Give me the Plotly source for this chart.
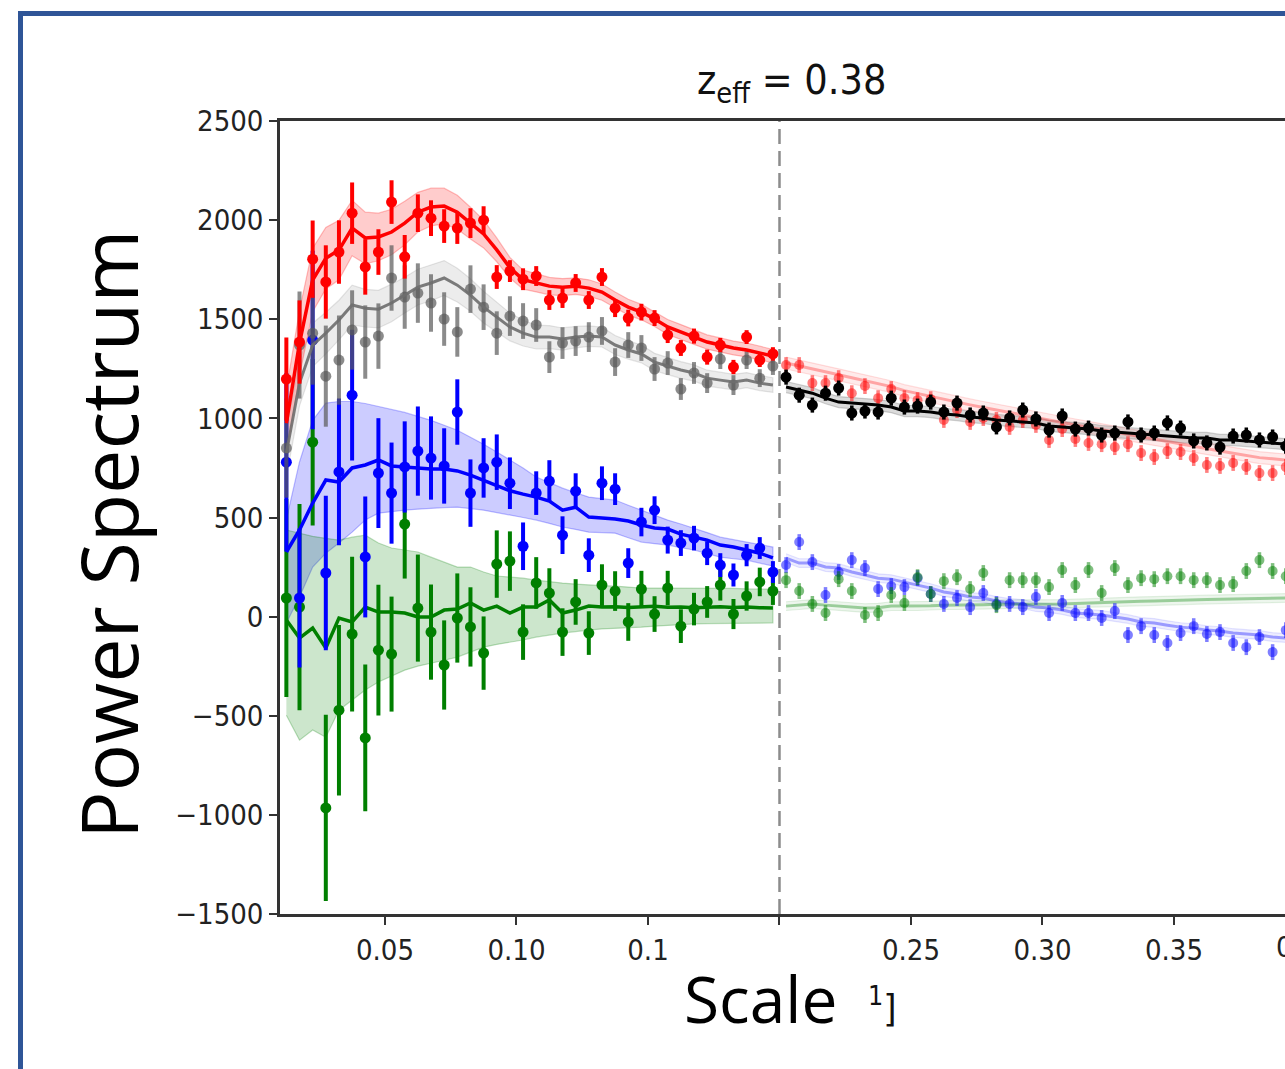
import plotly.graph_objects as go

# ---------------------------------------------------------------- data
# k-bin centres (fitted range below k = 0.2, extended range above it)
K_LEFT = [0.0125, 0.0175, 0.0225, 0.0275, 0.0325, 0.0375, 0.0425, 0.0475, 0.0525, 0.0575,
          0.0625, 0.0675, 0.0725, 0.0775, 0.0825, 0.0875, 0.0925, 0.0975, 0.1025, 0.1075,
          0.1125, 0.1175, 0.1225, 0.1275, 0.1325, 0.1375, 0.1425, 0.1475, 0.1525, 0.1575,
          0.1625, 0.1675, 0.1725, 0.1775, 0.1825, 0.1875, 0.1925, 0.1975]
K_RIGHT = [0.2025, 0.2075, 0.2125, 0.2175, 0.2225, 0.2275, 0.2325, 0.2375, 0.2425, 0.2475,
           0.2525, 0.2575, 0.2625, 0.2675, 0.2725, 0.2775, 0.2825, 0.2875, 0.2925, 0.2975,
           0.3025, 0.3075, 0.3125, 0.3175, 0.3225, 0.3275, 0.3325, 0.3375, 0.3425, 0.3475,
           0.3525, 0.3575, 0.3625, 0.3675, 0.3725, 0.3775, 0.3825, 0.3875, 0.3925]

# red multipole
RED_PTS = [1198, 1385, 1803, 1688, 1839, 2035, 1764, 1839, 2091, 1815, 2035, 2010, 1970, 1960,
           1985, 2000, 1713, 1743, 1702, 1718, 1597, 1607, 1683, 1597, 1713, 1556, 1506, 1536,
           1506, 1420, 1355, 1415, 1309, 1370, 1259, 1410, 1294, 1325]
RED_ERR = [210, 210, 195, 185, 160, 155, 140, 115, 110, 110, 95, 90, 85, 80, 75, 70, 60, 55, 55,
           50, 50, 50, 45, 45, 45, 45, 42, 42, 40, 40, 40, 38, 38, 36, 36, 35, 35, 34]
RED_MODEL = [975, 1380, 1698, 1808, 1849, 1960, 1910, 1915, 1940, 1985, 2040, 2066, 2071, 2040,
             1985, 1930, 1850, 1760, 1700, 1683, 1667, 1662, 1667, 1657, 1637, 1597, 1561, 1536,
             1501, 1461, 1436, 1410, 1385, 1370, 1355, 1345, 1329, 1314]
RED_BAND = [170, 165, 160, 155, 150, 140, 130, 120, 115, 110, 100, 95, 90, 85, 80, 70, 60, 52, 48,
            45, 44, 43, 42, 42, 41, 40, 40, 39, 38, 38, 37, 37, 36, 36, 35, 35, 34, 34]

# grey multipole
GREY_PTS = [850, 1370, 1430, 1213, 1294, 1446, 1385, 1415, 1708, 1612, 1632, 1582, 1501, 1436,
            1652, 1561, 1430, 1516, 1491, 1471, 1309, 1380, 1390, 1410, 1441, 1284, 1370, 1355,
            1249, 1279, 1148, 1229, 1178, 1299, 1168, 1294, 1203, 1264]
GREY_ERR = [250, 270, 260, 255, 225, 200, 185, 165, 165, 160, 150, 145, 135, 125, 120, 115, 110,
            100, 90, 85, 80, 80, 75, 75, 70, 70, 65, 65, 60, 60, 55, 55, 50, 50, 50, 45, 45, 45]
GREY_MODEL = [825, 1178, 1370, 1430, 1496, 1572, 1556, 1551, 1582, 1622, 1662, 1683, 1708, 1672,
              1622, 1561, 1511, 1461, 1430, 1410, 1410, 1400, 1410, 1415, 1410, 1370, 1345, 1325,
              1284, 1264, 1244, 1229, 1203, 1193, 1183, 1193, 1178, 1168]
GREY_BAND = [120, 115, 110, 105, 100, 100, 95, 95, 95, 90, 90, 90, 88, 85, 82, 80, 75, 70, 65, 60,
             58, 56, 54, 52, 50, 48, 46, 45, 44, 43, 42, 41, 40, 40, 39, 38, 38, 37]

# blue multipole
BLUE_PTS = [779, 94, 1395, 220, 730, 1117, 301, 724, 623, 755, 835, 800, 760, 1032, 623, 750,
            779, 673, 355, 623, 684, 411, 633, 310, 673, 643, 270, 477, 537, 386, 371, 396, 320,
            260, 210, 310, 346, 225]
BLUE_ERR = [450, 350, 450, 390, 370, 330, 305, 277, 255, 230, 225, 210, 190, 165, 170, 150, 140,
            130, 120, 110, 105, 95, 90, 85, 85, 80, 75, 72, 70, 68, 65, 62, 60, 60, 58, 56, 55, 55]
BLUE_MODEL = [326, 437, 573, 689, 679, 750, 765, 790, 760, 755, 750, 745, 745, 735, 714, 689, 664,
              635, 618, 603, 583, 537, 552, 502, 497, 492, 482, 462, 447, 442, 416, 401, 386, 361,
              351, 336, 320, 296]
BLUE_HI = [490, 780, 990, 1077, 1085, 1085, 1075, 1060, 1045, 1030, 1010, 990, 965, 940, 905, 870,
           830, 790, 750, 704, 676, 648, 625, 603, 595, 588, 562, 537, 512, 487, 467, 447, 424,
           401, 388, 376, 363, 351]
BLUE_LO = [-32, 99, 250, 320, 371, 426, 487, 522, 530, 537, 542, 547, 550, 552, 545, 537, 525,
           512, 500, 487, 470, 452, 440, 426, 424, 421, 398, 376, 368, 361, 348, 336, 318, 300,
           292, 285, 270, 255]

# green multipole
GREEN_PTS = [94, 48, 880, -965, -472, -88, -612, -169, -189, 467, 43, -78, -244, -7, -52, -184,
             265, 280, -78, 170, 119, -78, 74, -83, 159, 129, -27, 139, 13, 144, -48, 38, 74, 159,
             13, 104, 175, 129]
GREEN_ERR = [500, 520, 420, 470, 430, 390, 370, 330, 290, 275, 270, 240, 225, 225, 200, 185, 170,
             150, 140, 130, 125, 120, 115, 110, 105, 100, 95, 92, 90, 87, 85, 82, 80, 78, 76, 74,
             72, 70]
GREEN_MODEL = [-17, -108, -58, -159, -7, -27, 48, 23, 23, 18, -2, -2, 33, 38, 69, 33, 53, 18, 48,
               48, 84, 18, 33, 53, 48, 50, 46, 48, 52, 47, 49, 45, 48, 50, 46, 48, 45, 44]
GREEN_HI = [437, 420, 405, 395, 386, 401, 411, 371, 346, 336, 326, 300, 275, 250, 250, 225, 205,
            200, 194, 184, 176, 169, 164, 159, 156, 154, 149, 144, 144, 144, 144, 144, 144, 142,
            142, 140, 140, 139]
GREEN_LO = [-497, -623, -572, -608, -472, -421, -370, -330, -300, -270, -250, -234, -220, -204,
            -180, -154, -140, -128, -118, -103, -93, -83, -75, -68, -62, -58, -55, -53, -48, -43,
            -40, -37, -35, -32, -32, -32, -32, -32]

# extended range (k > 0.2)
BLACK_PTS = [1208, 1117, 1067, 1127, 1153, 1027, 1037, 1032, 1102, 1057, 1062, 1082, 1032, 1077,
             1017, 1027, 957, 1002, 1042, 997, 941, 1012, 946, 951, 916, 926, 982, 916, 926, 977,
             951, 886, 876, 855, 911, 916, 891, 906, 860]
BLACK_MODEL = [1158, 1143, 1127, 1102, 1082, 1077, 1072, 1067, 1057, 1037, 1037, 1032, 1022, 1017,
               1007, 1002, 992, 987, 982, 977, 962, 957, 951, 946, 936, 931, 926, 921, 916, 911,
               906, 901, 901, 891, 891, 886, 881, 876, 870]
RED_EXT_PTS = [1269, 1269, 1178, 1178, 1203, 1127, 1163, 1102, 1148, 1102, 1092, 1097, 992, 1042,
               982, 1002, 992, 957, 992, 967, 891, 946, 896, 876, 870, 855, 870, 825, 805, 835,
               830, 800, 765, 760, 775, 755, 724, 724, 755]
RED_EXT_MODEL = [1279, 1265, 1250, 1235, 1220, 1205, 1190, 1175, 1160, 1140, 1125, 1110, 1095,
                 1080, 1068, 1055, 1042, 1030, 1018, 1005, 992, 980, 967, 955, 943, 930, 918, 905,
                 893, 880, 870, 858, 846, 835, 824, 813, 802, 796, 790]
BLUE_EXT_PTS = [260, 376, 275, 109, 225, 285, 245, 139, 154, 149, 194, 114, 64, 94, 48, 119, 64,
                64, 48, 99, 18, 69, 18, 18, -7, 28, -93, -48, -93, -133, -83, -48, -88, -78, -133,
                -154, -103, -179, -68]
BLUE_EXT_MODEL = [295, 270, 270, 250, 245, 225, 210, 194, 189, 174, 159, 144, 124, 114, 99, 94, 79,
                  69, 64, 48, 43, 33, 18, 13, 8, -2, -12, -27, -32, -43, -53, -58, -68, -73, -83,
                  -88, -93, -103, -108]
GREEN_EXT_PTS = [184, 129, 64, 18, 189, 129, 8, 18, 109, 69, 199, 114, 179, 199, 139, 220, 58, 184,
                 184, 184, 149, 235, 159, 235, 119, 245, 159, 194, 189, 204, 204, 184, 184, 159,
                 164, 230, 285, 230, 204]
GREEN_EXT_MODEL = [53, 58, 64, 58, 53, 48, 43, 45, 53, 53, 53, 55, 58, 58, 58, 60, 62, 62, 64, 64,
                   64, 64, 66, 69, 72, 74, 76, 78, 79, 80, 82, 84, 86, 88, 89, 90, 90, 92, 94]

# uncertainties in the extended range
EXT_ERR_BLACK = 38
EXT_ERR_FADED = 40
EXT_BAND_BLACK = 28
EXT_BAND_RED = 30
EXT_BAND_BLUE = 22
EXT_BAND_GREEN = 22

K_SPLIT = 0.2
X_TICKS = [0.05, 0.10, 0.15, 0.20, 0.25, 0.30, 0.35, 0.40]
X_TICK_TEXT = ["0.05", "0.10", "0.1", "", "0.25", "0.30", "0.35", "0.40"]
Y_TICKS = [-1500, -1000, -500, 0, 500, 1000, 1500, 2000, 2500]

# ---------------------------------------------------------------- style
TICK_FONT = "DejaVu Sans Condensed, DejaVu Sans, sans-serif"
LABEL_FONT = "Open Sans, Lato, sans-serif"
W, H = 1285, 1069
ML, MT, MB = 280, 121, 155

fig = go.Figure()


def band(k, lo, hi, fill, edge):
    fig.add_trace(go.Scatter(
        x=list(k) + list(k)[::-1], y=list(hi) + list(lo)[::-1],
        fill="toself", fillcolor=fill, mode="lines",
        line=dict(color=edge, width=1.2), hoverinfo="skip", showlegend=False))


def model(k, y, color, width=3.5):
    fig.add_trace(go.Scatter(x=k, y=y, mode="lines", line=dict(color=color, width=width),
                             showlegend=False))


def points(k, y, err, color, size=11, thick=4):
    if isinstance(err, (int, float)):
        ey = dict(type="constant", value=err, color=color, thickness=thick, width=0)
    else:
        ey = dict(type="data", array=err, color=color, thickness=thick, width=0)
    fig.add_trace(go.Scatter(x=k, y=y, mode="markers", error_y=ey,
                             marker=dict(color=color, size=size, line=dict(width=0)),
                             showlegend=False))


def pm(mid, half):
    if isinstance(half, (int, float)):
        half = [half] * len(mid)
    return [m - h for m, h in zip(mid, half)], [m + h for m, h in zip(mid, half)]


# shaded model uncertainty, k < 0.2
band(K_LEFT, BLUE_LO, BLUE_HI, "rgba(0,0,255,0.20)", "rgba(0,0,255,0.25)")
band(K_LEFT, GREEN_LO, GREEN_HI, "rgba(0,128,0,0.20)", "rgba(0,128,0,0.25)")
lo, hi = pm(GREY_MODEL, GREY_BAND)
band(K_LEFT, lo, hi, "rgba(128,128,128,0.15)", "rgba(128,128,128,0.2)")
lo, hi = pm(RED_MODEL, RED_BAND)
band(K_LEFT, lo, hi, "rgba(255,0,0,0.20)", "rgba(255,0,0,0.25)")

# shaded model uncertainty, k > 0.2
lo, hi = pm(BLUE_EXT_MODEL, EXT_BAND_BLUE)
band(K_RIGHT, lo, hi, "rgba(0,0,255,0.07)", "rgba(0,0,255,0.10)")
lo, hi = pm(GREEN_EXT_MODEL, EXT_BAND_GREEN)
band(K_RIGHT, lo, hi, "rgba(0,128,0,0.07)", "rgba(0,128,0,0.10)")
lo, hi = pm(RED_EXT_MODEL, EXT_BAND_RED)
band(K_RIGHT, lo, hi, "rgba(255,0,0,0.08)", "rgba(255,0,0,0.12)")
lo, hi = pm(BLACK_MODEL, EXT_BAND_BLACK)
band(K_RIGHT, lo, hi, "rgba(110,110,110,0.25)", "rgba(110,110,110,0.3)")

# faded extended-range measurements and models
model(K_RIGHT, BLUE_EXT_MODEL, "rgba(0,0,255,0.35)", 3)
model(K_RIGHT, GREEN_EXT_MODEL, "rgba(0,128,0,0.35)", 3)
model(K_RIGHT, RED_EXT_MODEL, "rgba(255,0,0,0.30)", 3)
points(K_RIGHT, BLUE_EXT_PTS, EXT_ERR_FADED, "rgba(0,0,255,0.5)", 10, 3.5)
points(K_RIGHT, GREEN_EXT_PTS, EXT_ERR_FADED, "rgba(0,128,0,0.5)", 10, 3.5)
points(K_RIGHT, RED_EXT_PTS, EXT_ERR_FADED, "rgba(255,0,0,0.5)", 10, 3.5)
model(K_RIGHT, BLACK_MODEL, "black", 3)
points(K_RIGHT, BLACK_PTS, EXT_ERR_BLACK, "black", 11, 3.5)

# fitted range measurements and models
points(K_LEFT, GREEN_PTS, GREEN_ERR, "#007f00")
model(K_LEFT, GREEN_MODEL, "#007f00")
points(K_LEFT, BLUE_PTS, BLUE_ERR, "#0000ff")
model(K_LEFT, BLUE_MODEL, "#0000ff")
points(K_LEFT, GREY_PTS, GREY_ERR, "rgba(90,90,90,0.7)")
model(K_LEFT, GREY_MODEL, "rgba(110,110,110,0.9)", 3)
points(K_LEFT, RED_PTS, RED_ERR, "#ff0000")
model(K_LEFT, RED_MODEL, "#ff0000")


def px_to_paper_x(px):
    return (px - ML) / (W - ML)


def py_to_paper_y(py):
    return (H - MB - py) / (H - MB - MT)


fig.update_layout(
    width=W, height=H,
    margin=dict(l=ML, r=0, t=MT, b=MB, pad=0),
    paper_bgcolor="white", plot_bgcolor="white",
    showlegend=False,
    xaxis=dict(range=[0.01008, 0.39221], tickvals=X_TICKS, ticktext=X_TICK_TEXT,
               ticks="outside", ticklen=8, tickwidth=2, tickcolor="#333",
               showline=True, linewidth=2.5, linecolor="#333", mirror=True,
               showgrid=False, zeroline=False,
               tickfont=dict(family=TICK_FONT, size=29, color="#222")),
    yaxis=dict(range=[-1500, 2500], tickvals=Y_TICKS,
               ticks="outside", ticklen=8, tickwidth=2, tickcolor="#333",
               showline=True, linewidth=2.5, linecolor="#333",
               showgrid=False, zeroline=False,
               tickfont=dict(family=TICK_FONT, size=29, color="#222")),
    shapes=[
        dict(type="line", xref="x", yref="paper", x0=K_SPLIT, x1=K_SPLIT, y0=0, y1=1,
             line=dict(color="#8c8c8c", width=2.5, dash="15px,7px"), layer="below"),
        dict(type="rect", xref="paper", yref="paper",
             x0=px_to_paper_x(20.5), x1=1.4, y0=-0.5, y1=py_to_paper_y(13.5),
             line=dict(color="#2F5597", width=5), fillcolor="rgba(0,0,0,0)"),
    ],
    annotations=[
        dict(text="z<sub>eff</sub> = 0.38", xref="paper", yref="paper",
             x=px_to_paper_x(791), y=py_to_paper_y(112), xanchor="center", yanchor="bottom",
             showarrow=False, font=dict(family=TICK_FONT, size=41, color="#111")),
        dict(text="Power Spectrum", xref="paper", yref="paper", textangle=-90,
             x=px_to_paper_x(107), y=py_to_paper_y(535), xanchor="center", yanchor="middle",
             showarrow=False, font=dict(family=LABEL_FONT, size=79, color="black")),
        dict(text="Scale", xref="paper", yref="paper",
             x=px_to_paper_x(760), y=py_to_paper_y(998), xanchor="center", yanchor="middle",
             showarrow=False, font=dict(family=LABEL_FONT, size=64, color="black")),
        dict(text="<sup>1</sup>]", xref="paper", yref="paper",
             x=px_to_paper_x(866), y=py_to_paper_y(1005), xanchor="left", yanchor="middle",
             showarrow=False, font=dict(family=TICK_FONT, size=38, color="#111")),
        dict(text="0.40", xref="paper", yref="paper",
             x=px_to_paper_x(1305), y=0, yshift=-14, xanchor="center", yanchor="top",
             showarrow=False, font=dict(family=TICK_FONT, size=29, color="#222")),
    ],
)

fig.write_html("out.html")
